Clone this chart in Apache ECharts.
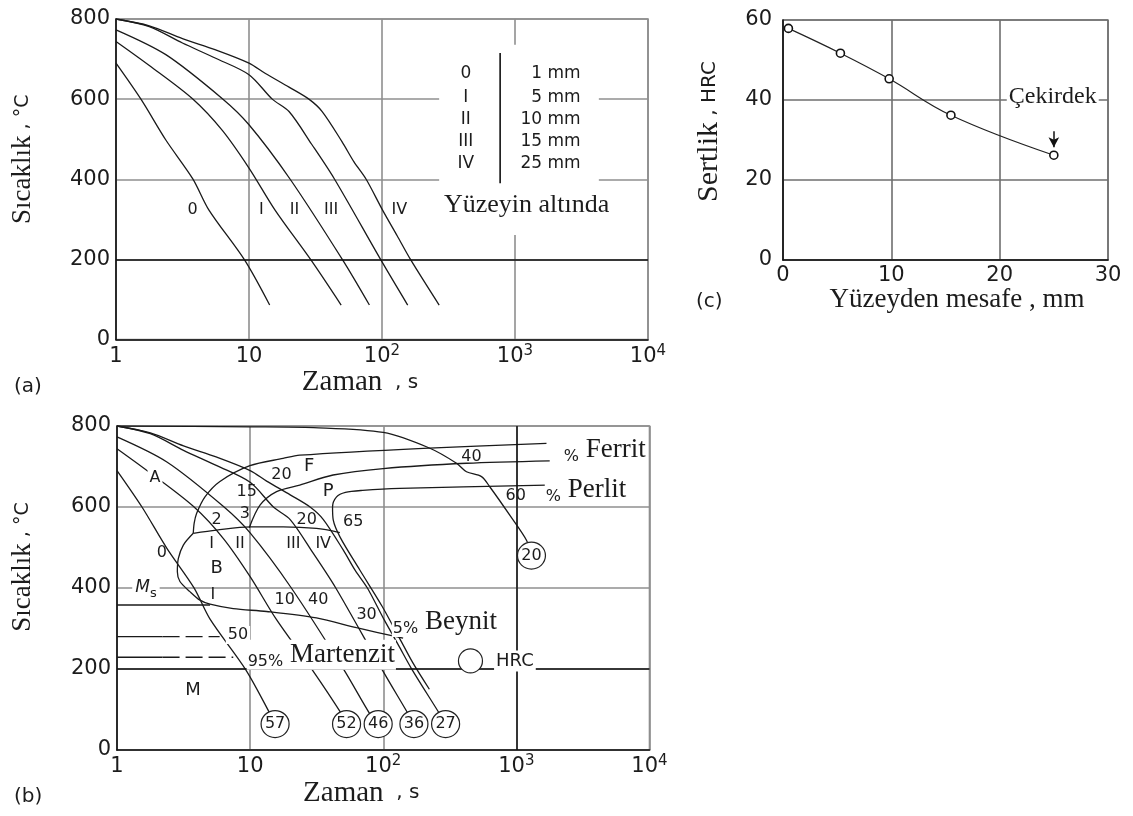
<!DOCTYPE html>
<html>
<head>
<meta charset="utf-8">
<script src="https://cdn.jsdelivr.net/npm/echarts@6/dist/echarts.min.js"></script>
<style>
  html, body { margin: 0; padding: 0; background: #fff; }
  #chart { width: 1133px; height: 816px; }
</style>
</head>
<body>
<div id="chart"></div>
<script>
// ---------------- data ----------------
// Time axis tick labels (log scale, seconds): [base, exponent]
const timeTickLabels = [['1', ''], ['10', ''], ['10', '2'], ['10', '3'], ['10', '4']];

// Cooling curves below the surface: [time (s), temperature (°C)]
const curveDepth1  = [[1,690],[1.54,600],[2.37,498],[3.78,401],[5.0,323],[9.28,198],[14.3,86]];
const curveDepth5  = [[1,744],[1.78,684],[3.76,601],[6.3,522],[10,428],[15.7,323],[29.3,198],[49.3,86]];
const curveDepth10 = [[1,773],[2.37,711],[6.31,601],[10,536],[20.4,400],[50.7,198],[80.4,86]];
const curveDepth15 = [[1,800],[1.78,781],[3.16,740],[5.62,702],[10,661],[14.96,600],[20,569],[29.5,488],[44,400],[98.3,198],[156,86]];
const curveDepth25 = [[1,800],[1.78,783],[3.16,751],[5.62,723],[10,690],[13.3,664],[20,630],[28.2,600],[35.5,569],[50,494],[61.4,444],[76,400],[101,323],[130,259],[165,198],[269,86]];

const curveNames  = ['0', 'I', 'II', 'III', 'IV'];
const depthLabels = ['1 mm', '5 mm', '10 mm', '15 mm', '25 mm'];

// End points of the cooling curves on the CCT diagram and the hardness reached there
const hardnessPoints = [[15.4,64],[53,64],[91.6,64],[170,64],[294,64]];
const hardnessHRC    = [57, 52, 46, 36, 27];

// Slow cooling path ending at 20 HRC
const slowCurve     = [[1,800],[10,798],[30,796],[100,784],[224,745],[355,708],[422,687],[547,675],[631,650],[900,578],[1191,518],[1298,480]];
const slowCurveHRC  = 20;

// Transformation lines of the CCT diagram: [time (s), temperature (°C)]
const ferriteStart  = [[3.74,535],[3.8,560],[3.96,584],[4.58,625],[5.93,663],[9.96,702],[17.7,720],[23.6,728],[200,745],[1683,757]];
const ferriteLine2  = [[9.85,549],[11.9,605],[15.8,638],[23.6,654],[42,679],[100,695],[422,708],[1780,714]];
const pearliteLine  = [[222,150],[167,215],[133,275],[98,355],[66.5,445],[47.5,525],[42.1,568],[41.6,600],[44.6,625],[52,636],[70,641],[133,646],[1683,654]];
const bainiteStart  = [[3.74,535],[5.6,543],[10,551],[17.7,551],[31.5,547],[47.2,537]];
const bainiteBound  = [[3.74,535],[3.15,506],[2.89,473],[2.84,440],[2.97,416],[3.53,391],[4.2,370],[5,360],[7.47,349],[13.3,342],[31.5,326],[63,302],[141,276]];
const msLine        = [[1,358],[5,358]];
const martensite50  = [[1,280],[2.2,280],[5.9,280]];
const martensite95  = [[1,229],[2.2,229],[7.47,229]];

// Hardness profile: distance from surface (mm) vs hardness (HRC)
const distanceMM  = [0.5, 5.3, 9.8, 15.5, 25];
const hardnessVal = [57.9, 51.7, 45.3, 36.2, 26.2];

// ---------------- styling ----------------
const SERIF = '"Liberation Serif","Times New Roman",serif';
const SANS  = '"DejaVu Sans","Liberation Sans",sans-serif';
const INK   = '#1c1c1c';
const AXIS  = '#111';
const FRAME = '#8a8a8a';
const GRIDC = '#8f8f8f';
const CURVE = { color: '#1a1a1a', width: 1.3 };

// small token sitting on the baseline of a larger neighbour
function lowToken(size, family) {
  return { fontFamily: family || SANS, fontSize: size, color: INK, verticalAlign: 'bottom', lineHeight: size + 8 };
}
// sans token centred on the line of an axis name
function unitToken(size) {
  return { fontFamily: SANS, fontSize: size, color: INK };
}

function timeAxis(gridIndex, nameGap) {
  return {
    type: 'log', logBase: 10, min: 1, max: 10000, gridIndex,
    name: '{z|Zaman}{u|  , s}', nameLocation: 'middle', nameGap,
    nameTextStyle: {
      padding: [0, 44, 0, 0],
      rich: {
        z: { fontFamily: SERIF, fontSize: 29, color: INK, lineHeight: 32 },
        u: unitToken(20)
      }
    },
    axisLine: { show: true, lineStyle: { color: AXIS, width: 1.6 } },
    axisTick: { show: false }, minorTick: { show: false },
    axisLabel: {
      margin: 4, color: INK, fontFamily: SANS, fontSize: 21,
      formatter: v => {
        const t = timeTickLabels[Math.round(Math.log10(v))];
        return t[1] ? '{b|' + t[0] + '}{p|' + t[1] + '}' : '{b|' + t[0] + '}';
      },
      rich: {
        b: { fontFamily: SANS, fontSize: 21, color: INK, lineHeight: 26 },
        p: { fontFamily: SANS, fontSize: 15, color: INK, lineHeight: 15, verticalAlign: 'top' }
      }
    },
    splitLine: { show: true, lineStyle: { color: GRIDC, width: 1.6 } }
  };
}

function tempAxis(gridIndex, nameGap, shift) {
  return {
    type: 'value', min: 0, max: 800, interval: 200, gridIndex,
    name: '{s|Sıcaklık}{u| , °C}', nameLocation: 'middle', nameGap,
    nameTextStyle: {
      padding: [0, 0, 0, shift],
      rich: {
        s: { fontFamily: SERIF, fontSize: 27, color: INK, lineHeight: 30 },
        u: unitToken(19)
      }
    },
    axisLine: { show: true, lineStyle: { color: AXIS, width: 1.6 } },
    axisTick: { show: false },
    axisLabel: { margin: 6, color: INK, fontFamily: SANS, fontSize: 21 },
    splitLine: { show: true, lineStyle: { color: GRIDC, width: 1.6 } }
  };
}

function curveSeries(grid, data, extra) {
  return Object.assign({
    type: 'line', xAxisIndex: grid, yAxisIndex: grid, data,
    symbol: 'none', smooth: 0.3, silent: true, z: 3,
    lineStyle: Object.assign({}, CURVE)
  }, extra || {});
}

// Text placed at data coordinates; each mark: [x, y, text, labelOverrides]
function textSeries(grid, marks, base) {
  return {
    type: 'scatter', xAxisIndex: grid, yAxisIndex: grid, silent: true, z: 10,
    symbolSize: 0,
    itemStyle: { opacity: 1 },
    data: marks.map(m => ({
      value: [m[0], m[1]],
      label: Object.assign({ formatter: m[2] }, m[3] || {})
    })),
    label: Object.assign({
      show: true, position: 'inside', color: INK, fontFamily: SANS, fontSize: 16
    }, base || {})
  };
}

const whiteBg = { backgroundColor: '#fff', padding: [1, 2] };

// ---------------- panel (a) ----------------
const curvesA = [curveDepth1, curveDepth5, curveDepth10, curveDepth15, curveDepth25];
const seriesA = curvesA.map(c => curveSeries(0, c));
seriesA[0].markLine = {
  silent: true, symbol: 'none', label: { show: false },
  lineStyle: { color: AXIS, width: 1.5, type: 'solid' },
  data: [{ yAxis: 200 }]
};

// key table: separator line with a white panel behind it
seriesA.push({
  type: 'line', xAxisIndex: 0, yAxisIndex: 0, symbol: 'none', silent: true, z: 4,
  data: [[773, 715], [773, 390]],
  lineStyle: { color: AXIS, width: 1.6 },
  markArea: {
    silent: true, itemStyle: { color: '#fff', opacity: 1 },
    data: [[{ coord: [269, 736] }, { coord: [4270, 261] }]]
  }
});
const keyRowsT = [663, 605, 550, 495, 440];
seriesA.push(textSeries(0, curveNames.map((n, i) => [427, keyRowsT[i], n]), { fontSize: 17 }));
seriesA.push(textSeries(0, depthLabels.map((n, i) => [3117, keyRowsT[i], n]),
  { fontSize: 17, position: 'left', distance: 0 }));
seriesA.push(textSeries(0, [[1222, 336, 'Yüzeyin altında']], { fontFamily: SERIF, fontSize: 26 }));
const curveLabelPosA = [3.76, 12.4, 22, 41.5, 135];
seriesA.push(textSeries(0, curveNames.map((n, i) => [curveLabelPosA[i], 323, n])));

// ---------------- panel (b) ----------------
const seriesB = curvesA.map((c, i) => curveSeries(1, c.concat([hardnessPoints[i]])));
seriesB.push(curveSeries(1, slowCurve));
seriesB.push(curveSeries(1, ferriteStart));
seriesB.push(curveSeries(1, ferriteLine2));
seriesB.push(curveSeries(1, pearliteLine));
seriesB.push(curveSeries(1, bainiteStart));
seriesB.push(curveSeries(1, bainiteBound));
seriesB.push(curveSeries(1, msLine, {
  smooth: false,
  markLine: {
    silent: true, symbol: 'none', label: { show: false },
    lineStyle: { color: AXIS, width: 1.5, type: 'solid' },
    data: [{ yAxis: 200 }, { xAxis: 1000 }]
  }
}));
[martensite50, martensite95].forEach(m => {
  seriesB.push(curveSeries(1, m.slice(0, 2), { smooth: false }));
  seriesB.push(curveSeries(1, m.slice(1), {
    smooth: false, lineStyle: { color: '#1a1a1a', width: 1.3, type: [17, 6] }
  }));
});

// hardness circles at the ends of the cooling paths
seriesB.push({
  type: 'scatter', xAxisIndex: 1, yAxisIndex: 1, silent: true, z: 8,
  symbol: 'circle', symbolSize: [28, 27],
  itemStyle: { color: '#fff', borderColor: '#222', borderWidth: 1.2, opacity: 1 },
  data: hardnessPoints.map((p, i) => ({ value: p, label: { formatter: String(hardnessHRC[i]) } }))
    .concat([{ value: slowCurve[slowCurve.length - 1], label: { formatter: String(slowCurveHRC) } }]),
  label: { show: true, position: 'inside', color: INK, fontFamily: SANS, fontSize: 16 }
});
// key symbol for the hardness circles
seriesB.push({
  type: 'scatter', xAxisIndex: 1, yAxisIndex: 1, silent: true, z: 8,
  symbol: 'circle', symbolSize: 24,
  itemStyle: { color: '#fff', borderColor: '#222', borderWidth: 1.2, opacity: 1 },
  data: [{ value: [452, 220] }],
  label: {
    show: true, position: 'right', distance: 11, formatter: 'HRC',
    color: INK, fontFamily: SANS, fontSize: 18, backgroundColor: '#fff', padding: [3, 2, 0, 2]
  }
});

const bigWord = { fontFamily: SERIF, fontSize: 27, color: INK, lineHeight: 30 };
seriesB.push(textSeries(1, [
  [1.93, 671, 'A', whiteBg],
  [2.17, 486, '0'],
  [5.6, 568, '2'],
  [9.14, 584, '3'],
  [9.42, 638, '15'],
  [17.2, 679, '20'],
  [27.8, 700, 'F', { fontSize: 18 }],
  [38.6, 638, 'P', { fontSize: 18 }],
  [26.6, 568, '20'],
  [59.4, 564, '65'],
  [5.14, 510, 'I'],
  [8.38, 510, 'II'],
  [21.1, 510, 'III'],
  [35.4, 510, 'IV'],
  [5.6, 449, 'B', { fontSize: 18 }],
  [5.26, 383, 'I'],
  [18.2, 370, '10'],
  [32.5, 370, '40'],
  [75, 333, '30'],
  [8.1, 284, '50', whiteBg],
  [3.72, 148, 'M', { fontSize: 18 }],
  [460, 724, '40'],
  [990, 627, '60'],
  [1.65, 400, '{m|M}{s|s}', {
    backgroundColor: '#fff', padding: [0, 3],
    rich: {
      m: { fontFamily: SANS, fontStyle: 'italic', fontSize: 17, lineHeight: 24, color: INK },
      s: { fontFamily: SANS, fontSize: 13, lineHeight: 13, verticalAlign: 'bottom', color: INK }
    }
  }]
]));
seriesB.push(textSeries(1, [
  [9.42, 235, '{a|95%}{b| Martenzit}', { rich: { a: lowToken(16), b: bigWord } }],
  [116, 316, '{a|5%}{b| Beynit}', { rich: { a: lowToken(16), b: bigWord } }],
  [2229, 741, '{a|%}{b| Ferrit}', { rich: { a: lowToken(16), b: bigWord } }],
  [1634, 642, '{a|%}{b| Perlit}', { rich: { a: lowToken(16), b: bigWord } }]
], { position: 'right', distance: 0, backgroundColor: '#fff', padding: [0, 1] }));

// ---------------- panel (c) ----------------
const seriesC = [{
  type: 'line', xAxisIndex: 2, yAxisIndex: 2, silent: true, z: 4,
  data: distanceMM.map((d, i) => [d, hardnessVal[i]]),
  smooth: 0.4, symbol: 'circle', symbolSize: 8, showAllSymbol: true,
  lineStyle: { color: '#222', width: 1.2 },
  itemStyle: { color: '#fff', borderColor: '#111', borderWidth: 1.6, opacity: 1 },
  markLine: {
    silent: true, symbol: ['none', 'arrow'], symbolSize: [8, 10], label: { show: false },
    lineStyle: { color: '#111', width: 1.5, type: 'solid' },
    data: [[{ coord: [25, 32.2] }, { coord: [25, 28.2] }]]
  }
}];
seriesC.push(textSeries(2, [[24.9, 40.8, 'Çekirdek']],
  { fontFamily: SERIF, fontSize: 24, backgroundColor: '#fff', padding: [0, 2] }));

// ---------------- chart ----------------
const option = {
  animation: false,
  backgroundColor: '#fff',
  textStyle: { fontFamily: SANS },
  grid: [
    { left: 116, top: 19, width: 532, height: 320.5, show: true, borderColor: FRAME, borderWidth: 1.6 },
    { left: 117, top: 426, width: 532.5, height: 324, show: true, borderColor: FRAME, borderWidth: 1.6 },
    { left: 783, top: 20, width: 325, height: 240, show: true, borderColor: FRAME, borderWidth: 1.6 }
  ],
  xAxis: [
    timeAxis(0, 26),
    timeAxis(1, 24),
    {
      type: 'value', min: 0, max: 30, interval: 10, gridIndex: 2,
      name: 'Yüzeyden mesafe , mm', nameLocation: 'middle', nameGap: 25,
      nameTextStyle: { fontFamily: SERIF, fontSize: 27, color: INK, padding: [0, 0, 0, 23] },
      axisLine: { show: true, lineStyle: { color: AXIS, width: 1.6 } },
      axisTick: { show: false },
      axisLabel: { margin: 5, color: INK, fontFamily: SANS, fontSize: 21 },
      splitLine: { show: true, lineStyle: { color: '#6e6e6e', width: 1.6 } }
    }
  ],
  yAxis: [
    tempAxis(0, 78, 40),
    tempAxis(1, 79, 42),
    {
      type: 'value', min: 0, max: 60, interval: 20, gridIndex: 2,
      name: '{s|Sertlik}{u| , HRC}', nameLocation: 'middle', nameGap: 57,
      nameTextStyle: {
        padding: [0, 0, 0, 17],
        rich: {
          s: { fontFamily: SERIF, fontSize: 30, color: INK, lineHeight: 33 },
          u: unitToken(20)
        }
      },
      axisLine: { show: true, lineStyle: { color: AXIS, width: 1.6 } },
      axisTick: { show: false },
      axisLabel: { margin: 11, color: INK, fontFamily: SANS, fontSize: 21 },
      splitLine: { show: true, lineStyle: { color: '#6e6e6e', width: 1.6 } }
    }
  ],
  graphic: [
    { type: 'text', left: 14, top: 377, style: { text: '(a)', font: '20px "DejaVu Sans"', fill: INK } },
    { type: 'text', left: 14, top: 787, style: { text: '(b)', font: '20px "DejaVu Sans"', fill: INK } },
    { type: 'text', left: 696, top: 292, style: { text: '(c)', font: '20px "DejaVu Sans"', fill: INK } }
  ],
  series: seriesA.concat(seriesB, seriesC)
};

const chart = echarts.init(document.getElementById('chart'), null, { renderer: 'canvas' });
chart.setOption(option);
</script>
</body>
</html>
